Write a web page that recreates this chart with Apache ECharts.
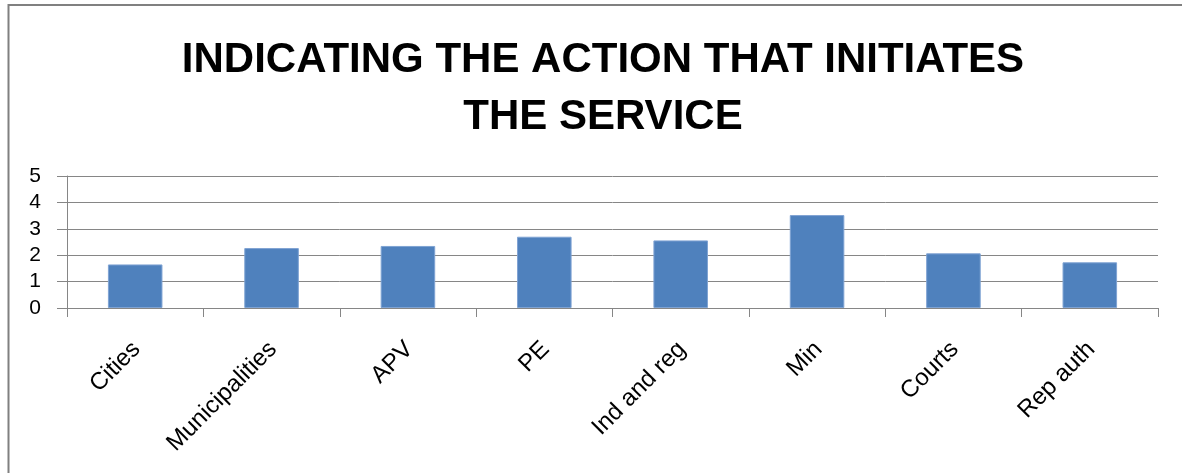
<!DOCTYPE html>
<html>
<head>
<meta charset="utf-8">
<script src="https://cdn.jsdelivr.net/npm/echarts@6/dist/echarts.min.js"></script>
<style>
html,body{margin:0;padding:0;background:#fff;}
#chart{width:1182px;height:473px;}
</style>
</head>
<body>
<div id="chart"></div>
<script>
const titleText = "INDICATING THE ACTION THAT INITIATES\nTHE SERVICE";
const categories = ["Cities", "Municipalities", "APV", "PE", "Ind and reg", "Min", "Courts", "Rep auth"];
const values = [1.65, 2.27, 2.35, 2.70, 2.56, 3.52, 2.07, 1.73];
const yTicks = [0, 1, 2, 3, 4, 5];

const chart = echarts.init(document.getElementById('chart'), null, {renderer: 'canvas'});
chart.setOption({
  backgroundColor: '#ffffff',
  animation: false,
  title: {
    text: titleText,
    left: 598,
    top: 27,
    textAlign: 'center',
    textStyle: {
      fontFamily: '"Liberation Sans", sans-serif',
      fontWeight: 'bold',
      fontSize: 42,
      lineHeight: 57,
      color: '#000'
    }
  },
  graphic: [{
    type: 'polyline',
    silent: true,
    shape: {points: [[8.5, 473], [8.5, 5], [1182, 5]]},
    style: {stroke: '#808080', lineWidth: 2, fill: null}
  }],
  grid: {left: 67, right: 24, top: 176, bottom: 165, containLabel: false},
  xAxis: {
    type: 'category',
    data: categories,
    boundaryGap: true,
    axisLine: {show: true, lineStyle: {color: '#868686', width: 1}},
    axisTick: {show: true, length: 9, lineStyle: {color: '#868686'}},
    axisLabel: {
      rotate: 45,
      margin: 22,
      interval: 0,
      align: 'right',
      verticalAlign: 'top',
      padding: [0, 10, 0, 0],
      fontFamily: '"Liberation Sans", sans-serif',
      fontSize: 24,
      color: '#000'
    },
    splitLine: {show: false}
  },
  yAxis: {
    type: 'value',
    min: yTicks[0],
    max: yTicks[yTicks.length - 1],
    interval: 1,
    axisLine: {show: true, lineStyle: {color: '#868686', width: 1}},
    axisTick: {show: true, length: 10, lineStyle: {color: '#868686'}},
    axisLabel: {
      margin: 26,
      fontFamily: '"Liberation Sans", sans-serif',
      fontSize: 21,
      color: '#000'
    },
    splitLine: {show: true, lineStyle: {color: '#868686', width: 1}}
  },
  series: [{
    type: 'bar',
    data: values,
    barWidth: '40%',
    itemStyle: {color: '#4F81BD', borderColor: '#7fa3d3', borderWidth: 1}
  }]
});
</script>
</body>
</html>
